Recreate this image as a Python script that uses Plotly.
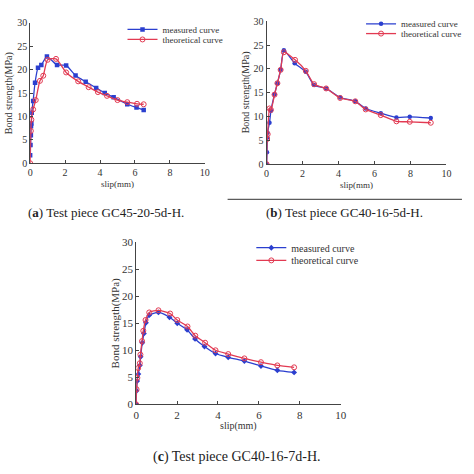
import plotly.graph_objects as go

# panel (a) GC45-20-5d-H
a_meas_x = [0, 0.02, 0.04, 0.05, 0.07, 0.09, 0.17, 0.28, 0.45, 0.64, 0.96, 1.54, 2.06, 2.6, 3.18, 3.78, 4.27, 4.78, 5.56, 6.09, 6.5]
a_meas_y = [1.7, 3.9, 6.0, 7.9, 8.5, 10.8, 13.3, 17.2, 20.4, 21.0, 22.8, 21.0, 20.9, 18.75, 17.4, 16.1, 15.0, 14.1, 12.6, 11.9, 11.4]
a_theo_x = [0, 0.04, 0.07, 0.17, 0.32, 0.56, 0.75, 1.0, 1.48, 2.06, 2.75, 3.35, 3.88, 4.4, 5.0, 5.56, 6.12, 6.5]
a_theo_y = [0, 6.9, 9.3, 11.5, 13.5, 17.6, 18.7, 22.1, 22.3, 19.4, 17.5, 16.25, 15.2, 14.4, 13.5, 13.05, 12.7, 12.6]

# panel (b) GC40-16-5d-H
b_meas_x = [0, 0.02, 0.04, 0.05, 0.16, 0.24, 0.44, 0.6, 0.78, 0.96, 1.56, 2.18, 2.64, 3.31, 4.09, 4.93, 5.51, 6.35, 7.22, 7.96, 9.13]
b_meas_y = [0, 2.5, 5.6, 6.6, 8.7, 11.2, 14.7, 17.0, 19.8, 23.9, 21.2, 19.4, 16.6, 15.9, 14.0, 13.2, 11.7, 10.7, 9.8, 9.95, 9.7]
b_theo_x = [0, 0.03, 0.06, 0.16, 0.24, 0.44, 0.6, 0.78, 0.96, 1.58, 2.18, 2.64, 3.31, 4.09, 4.93, 5.51, 6.35, 7.22, 7.96, 9.13]
b_theo_y = [0, 5.3, 6.3, 11.7, 11.4, 14.6, 17.0, 19.8, 23.5, 21.9, 19.6, 16.8, 15.9, 13.9, 13.2, 11.5, 10.3, 9.0, 8.9, 8.7]

# panel (c) GC40-16-7d-H
c_meas_x = [0, 0.02, 0.05, 0.11, 0.18, 0.22, 0.3, 0.38, 0.48, 0.64, 1.09, 1.63, 2.01, 2.49, 2.88, 3.34, 3.88, 4.5, 5.29, 6.1, 6.9, 7.72]
c_meas_y = [0, 2.5, 4.3, 5.6, 7.2, 8.8, 11.4, 13.1, 15.1, 16.5, 17.0, 16.1, 15.0, 13.8, 12.1, 10.7, 9.4, 8.7, 8.0, 7.1, 6.3, 5.9]
c_theo_x = [0, 0.02, 0.06, 0.1, 0.18, 0.21, 0.29, 0.35, 0.46, 0.64, 1.09, 1.66, 2.01, 2.51, 2.89, 3.37, 3.88, 4.5, 5.29, 6.1, 6.9, 7.72]
c_theo_y = [0, 2.8, 4.9, 6.7, 7.6, 9.2, 11.7, 13.6, 15.6, 17.0, 17.4, 16.8, 15.6, 14.4, 12.7, 11.4, 10.0, 9.3, 8.5, 7.8, 7.2, 6.85]

captions = ["Test piece GC45-20-5d-H.", "Test piece GC40-16-5d-H.", "Test piece GC40-16-7d-H."]
tick_vals_x = [0, 2, 4, 6, 8, 10]
tick_vals_y = [0, 5, 10, 15, 20, 25, 30]

blue = "#2b3fcf"
red = "#e23a52"
serif = "Liberation Serif"

panels = [
    dict(mx=a_meas_x, my=a_meas_y, tx=a_theo_x, ty=a_theo_y, sym="square",
         xd=[0.0584, 0.434], yd=[0.6597, 0.9635], legx=0.257, legy=[0.9494, 0.9276], fs=10),
    dict(mx=b_meas_x, my=b_meas_y, tx=b_theo_x, ty=b_theo_y, sym="circle",
         xd=[0.5669, 0.9536], yd=[0.6576, 0.9669], legx=0.770, legy=[0.9614, 0.9403], fs=10),
    dict(mx=c_meas_x, my=c_meas_y, tx=c_theo_x, ty=c_theo_y, sym="diamond",
         xd=[0.2863, 0.7264], yd=[0.1378, 0.4888], legx=0.534, legy=[0.4768, 0.4494], fs=11),
]

fig = go.Figure()
layout = dict(width=474, height=474, margin=dict(l=0, r=0, t=0, b=0), showlegend=True,
              paper_bgcolor="white", plot_bgcolor="white",
              font=dict(family=serif, color="#333333"))
annotations = []

for i, p in enumerate(panels):
    n = "" if i == 0 else str(i + 1)
    leg1 = "legend" + ("" if i == 0 else str(2 * i + 1))
    leg2 = "legend" + str(2 * i + 2)
    fig.add_trace(go.Scatter(x=p["mx"], y=p["my"], name="measured curve", mode="lines+markers",
                             line=dict(color=blue, width=1.3, shape="spline", smoothing=0.6),
                             marker=dict(symbol=p["sym"], size=4.5, color=blue),
                             xaxis="x" + n, yaxis="y" + n, legend=leg1, showlegend=True))
    fig.add_trace(go.Scatter(x=p["tx"], y=p["ty"], name="theoretical curve", mode="lines+markers",
                             line=dict(color=red, width=1.3, shape="spline", smoothing=0.6),
                             marker=dict(symbol="circle-open", size=5, color=red, line=dict(width=1)),
                             xaxis="x" + n, yaxis="y" + n, legend=leg2, showlegend=True))
    tick_font = dict(family=serif, size=p["fs"], color="#333333")
    layout["xaxis" + n] = dict(domain=p["xd"], range=[0, 10], tickvals=tick_vals_x, showgrid=False,
                               zeroline=False, showline=True, linecolor="#444444", linewidth=1,
                               ticks="inside", ticklen=3, tickcolor="#444444", tickfont=tick_font,
                               anchor="y" + n)
    layout["yaxis" + n] = dict(domain=p["yd"], range=[0, 30], tickvals=tick_vals_y, showgrid=False,
                               zeroline=False, showline=True, linecolor="#444444", linewidth=1,
                               ticks="inside", ticklen=3, tickcolor="#444444", tickfont=tick_font,
                               anchor="x" + n)
    for lg, ly in zip([leg1, leg2], p["legy"]):
        layout[lg] = dict(x=p["legx"], y=ly, xanchor="left", yanchor="middle", visible=True,
                          bgcolor="rgba(0,0,0,0)",
                          font=dict(family=serif, size=p["fs"] - 1, color="#333333"))
    xmid = (p["xd"][0] + p["xd"][1]) / 2
    annotations.append(dict(text="slip(mm)", x=xmid, y=p["yd"][0], xref="paper", yref="paper",
                            xanchor="center", yanchor="top", yshift=-14, showarrow=False,
                            font=dict(family=serif, size=p["fs"] - 1, color="#333333")))
    ymid = (p["yd"][0] + p["yd"][1]) / 2
    annotations.append(dict(text="Bond strength(MPa)", x=p["xd"][0], y=ymid, xref="paper", yref="paper",
                            xanchor="center", yanchor="middle", xshift=-21, textangle=-90, showarrow=False,
                            font=dict(family=serif, size=p["fs"], color="#333333")))

cap_pos = [(0.222, 0.553, 13), (0.734, 0.553, 13), (0.503, 0.023, 14)]
for (cx, cy, cs), letter, cap in zip(cap_pos, ["a", "b", "c"], captions):
    annotations.append(dict(text="(<b>" + letter + "</b>) " + cap, x=cx, y=cy, xref="paper", yref="paper",
                            xanchor="center", yanchor="middle", showarrow=False,
                            font=dict(family=serif, size=cs, color="#222222")))

layout["annotations"] = annotations
layout["shapes"] = [dict(type="line", xref="paper", yref="paper", x0=0.483, x1=0.987,
                         y0=0.5816, y1=0.5816, line=dict(color="#333333", width=1))]
fig.update_layout(**layout)

fig.write_html("out.html", config={"displayModeBar": False},
               post_script="document.body.style.margin='0px';")
